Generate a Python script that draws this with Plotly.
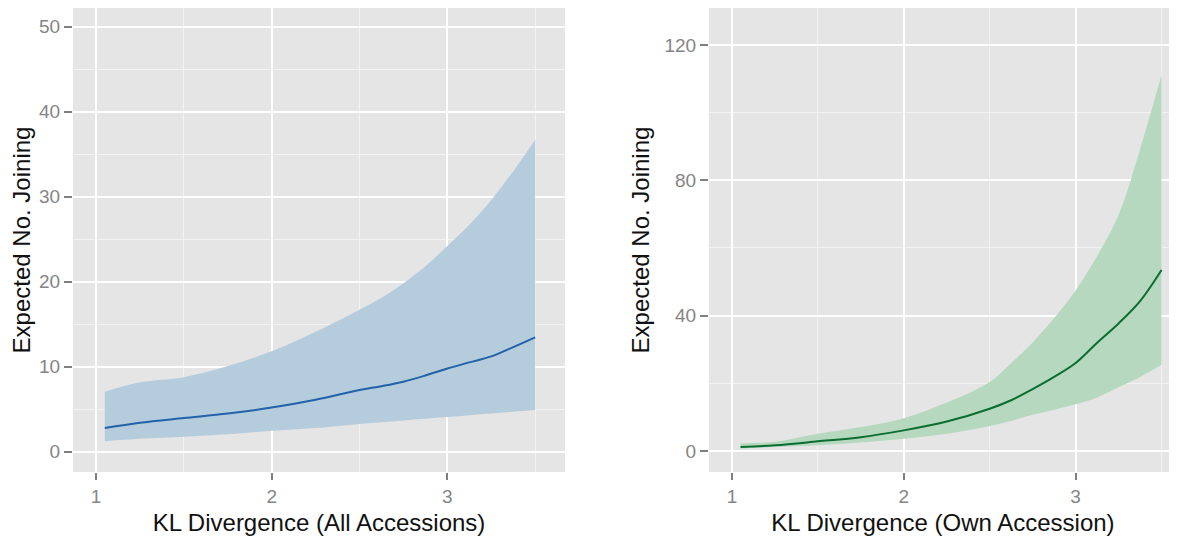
import plotly.graph_objects as go

# Left panel: KL Divergence (All Accessions)
x_all = [1.05, 1.25, 1.5, 1.75, 2.0, 2.25, 2.5, 2.625, 2.75, 2.875, 3.0, 3.125, 3.25, 3.375, 3.5]
fit_all = [2.77, 3.4, 3.95, 4.48, 5.18, 6.1, 7.25, 7.7, 8.23, 8.96, 9.78, 10.5, 11.2, 12.3, 13.45]
lo_all = [1.22, 1.5, 1.75, 2.04, 2.44, 2.77, 3.26, 3.46, 3.67, 3.87, 4.07, 4.28, 4.48, 4.7, 4.9]
hi_all = [7.05, 8.15, 8.76, 10.07, 11.8, 14.1, 16.7, 18.1, 19.8, 21.8, 24.2, 26.7, 29.6, 33.0, 36.7]

# Right panel: KL Divergence (Own Accession)
x_own = [1.05, 1.25, 1.5, 1.75, 2.0, 2.25, 2.5, 2.625, 2.75, 2.875, 3.0, 3.125, 3.25, 3.375, 3.5]
fit_own = [1.2, 1.7, 2.85, 4.1, 6.1, 8.7, 12.5, 15.0, 18.3, 21.9, 26.0, 32.0, 37.7, 44.3, 53.5]
lo_own = [0.7, 1.2, 1.7, 2.5, 3.6, 5.1, 7.4, 8.9, 10.7, 12.2, 13.8, 15.8, 18.9, 21.9, 25.5]
hi_own = [2.3, 2.75, 5.1, 7.1, 9.7, 14.3, 20.4, 26.0, 32.1, 39.2, 47.4, 57.6, 69.8, 89.2, 111.1]

x_title_all = "KL Divergence (All Accessions)"
x_title_own = "KL Divergence (Own Accession)"
y_title = "Expected No. Joining"

BLUE_FILL = "rgb(181,204,221)"
BLUE_LINE = "rgb(33,98,168)"
GREEN_FILL = "rgb(182,216,190)"
GREEN_LINE = "rgb(10,110,50)"

fig = go.Figure()

def add_band(x, lo, hi, fit, fill, line, xa, ya):
    fig.add_trace(go.Scatter(x=x, y=lo, mode="lines", line=dict(width=0, shape="spline"),
                             showlegend=False, hoverinfo="skip", xaxis=xa, yaxis=ya))
    fig.add_trace(go.Scatter(x=x, y=hi, mode="lines", line=dict(width=0, shape="spline"),
                             fill="tonexty", fillcolor=fill, showlegend=False, hoverinfo="skip",
                             xaxis=xa, yaxis=ya))
    fig.add_trace(go.Scatter(x=x, y=fit, mode="lines", line=dict(color=line, width=2, shape="spline"),
                             showlegend=False, xaxis=xa, yaxis=ya))

add_band(x_all, lo_all, hi_all, fit_all, BLUE_FILL, BLUE_LINE, "x", "y")
add_band(x_own, lo_own, hi_own, fit_own, GREEN_FILL, GREEN_LINE, "x2", "y2")

FONT = "Liberation Sans, Arial, sans-serif"
tickfont = dict(family=FONT, size=19, color="#858585")
titlefont = dict(family=FONT, size=24, color="#111111")

common_x = dict(showgrid=True, gridcolor="white", gridwidth=2, zeroline=False,
                ticks="outside", ticklen=7, tickcolor="#7f7f7f", tickwidth=1.5,
                tickfont=tickfont, title_font=titlefont, showline=False,
                tickvals=[1, 2, 3], ticktext=["1", "2", "3"],
                minor=dict(tickvals=[1.5, 2.5, 3.5], showgrid=True, gridcolor="#f2f2f2",
                           gridwidth=1, ticks=""))
common_y = dict(showgrid=True, gridcolor="white", gridwidth=2, zeroline=False,
                ticks="outside", ticklen=8, tickcolor="#7f7f7f", tickwidth=1.5,
                tickfont=tickfont, title_font=titlefont, showline=False)

fig.update_layout(
    width=1169, height=534,
    margin=dict(l=65, r=0, t=0, b=70),
    paper_bgcolor="white", plot_bgcolor="#e5e5e5",
    xaxis=dict(common_x, domain=[0, 0.4457], range=[0.869, 3.67],
               title=dict(text=x_title_all, standoff=8)),
    yaxis=dict(common_y, range=[-2.4, 52.2], tickvals=[0, 10, 20, 30, 40, 50],
               minor=dict(tickvals=[5, 15, 25, 35, 45], showgrid=True, gridcolor="#f2f2f2",
                          gridwidth=1, ticks=""),
               title=dict(text=y_title, standoff=10)),
    xaxis2=dict(common_x, domain=[0.576, 1], range=[0.866, 3.59], anchor="y2",
                title=dict(text=x_title_own, standoff=8)),
    yaxis2=dict(common_y, range=[-6.2, 130.9], tickvals=[0, 40, 80, 120], anchor="x2",
                minor=dict(tickvals=[20, 60, 100], showgrid=True, gridcolor="#f2f2f2",
                           gridwidth=1, ticks=""),
                title=dict(text=y_title, standoff=8)),
)

fig.write_html("out.html")
